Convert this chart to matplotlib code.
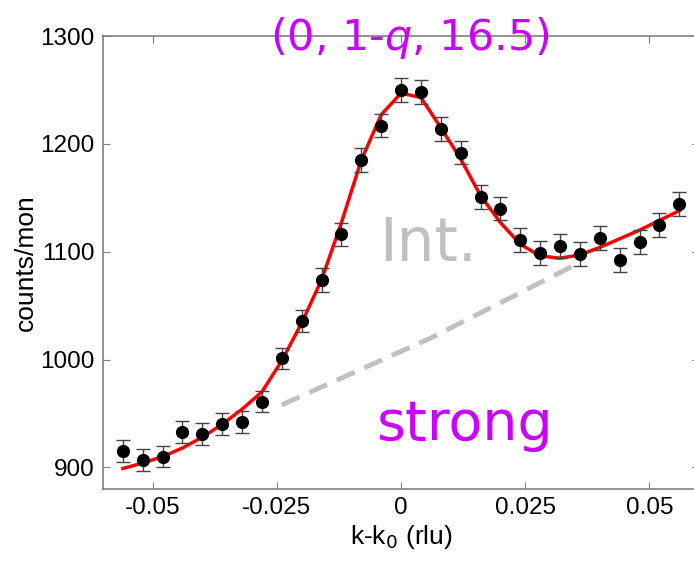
import numpy as np
import matplotlib
matplotlib.use("Agg")
import matplotlib.pyplot as plt

# -------------------------------------------------------------------------------------
# Data
k_vals = [-0.056, -0.052, -0.048, -0.044, -0.040, -0.036, -0.032, -0.028, -0.024, -0.020,
          -0.016, -0.012, -0.008, -0.004, 0.000, 0.004, 0.008, 0.012, 0.016, 0.020,
          0.024, 0.028, 0.032, 0.036, 0.040, 0.044, 0.048, 0.052, 0.056]
counts = [915, 907, 910, 933, 931, 940, 942, 961, 1001, 1036,
          1074, 1116, 1185, 1217, 1250, 1248, 1214, 1192, 1151, 1140,
          1111, 1099, 1105, 1098, 1113, 1092, 1109, 1125, 1144]
errors = [10, 10, 10, 10, 10, 10, 10, 10, 10, 10,
          11, 11, 11, 11, 11, 11, 11, 11, 11, 11,
          11, 11, 11, 11, 11, 11, 11, 11, 11]
fit_vals = [899, 904, 910, 918, 928, 940, 954, 970, 999, 1034,
            1074, 1127, 1185, 1227, 1247, 1243, 1215, 1186, 1152, 1127,
            1107, 1096, 1094, 1097, 1104, 1112, 1120, 1129, 1138]
bg_k = [-0.024, 0.006, 0.036]
bg_vals = [958, 1020, 1090]

x_ticks = [-0.05, -0.025, 0, 0.025, 0.05]
x_tick_labels = ["-0.05", "-0.025", "0", "0.025", "0.05"]
y_ticks = [900, 1000, 1100, 1200, 1300]
# -------------------------------------------------------------------------------------

plt.rcParams['font.family'] = ['Liberation Sans', 'DejaVu Sans']

fig = plt.figure(figsize=(6.94, 5.63), dpi=100)
ax = fig.add_axes([0.1484, 0.1315, 0.859, 0.8045])

ax.plot(bg_k, bg_vals, color='#c0c0c0', lw=3.5, dashes=(4, 2.2), zorder=1)
ax.plot(k_vals, fit_vals, color='red', lw=2.5, zorder=3)
ax.errorbar(k_vals, counts, yerr=errors, fmt='o', color='black', ms=8.5,
            ecolor='#444444', elinewidth=1, capsize=5, capthick=1, zorder=4)

ax.set_xlim(-0.06, 0.06)
ax.set_ylim(880, 1300)
ax.set_xticks(x_ticks)
ax.set_xticklabels(x_tick_labels)
ax.set_yticks(y_ticks)
ax.tick_params(direction='in', top=True, right=True, labelsize=17.5, length=5,
               color='#808080', pad=6)
for s in ax.spines.values():
    s.set_color('#808080')
    s.set_linewidth(1.2)

ax.set_xlabel("k-k$_0$ (rlu)", fontsize=19, labelpad=3)
ax.set_ylabel("counts/mon", fontsize=19, labelpad=2)

# annotations
ax.text(0.0018, 1287, "(0, 1-$q$, 16.5)", color='#cc00ff', fontsize=31,
        family='DejaVu Sans', ha='center', va='baseline', clip_on=False)
ax.text(0.0054, 1091, "Int.", color='#c0c0c0', fontsize=43,
        family='DejaVu Sans', ha='center', va='baseline')
ax.text(0.0129, 925, "strong", color='#cc00ff', fontsize=40,
        family='DejaVu Sans', ha='center', va='baseline')

fig.savefig("out.png", dpi=100)
